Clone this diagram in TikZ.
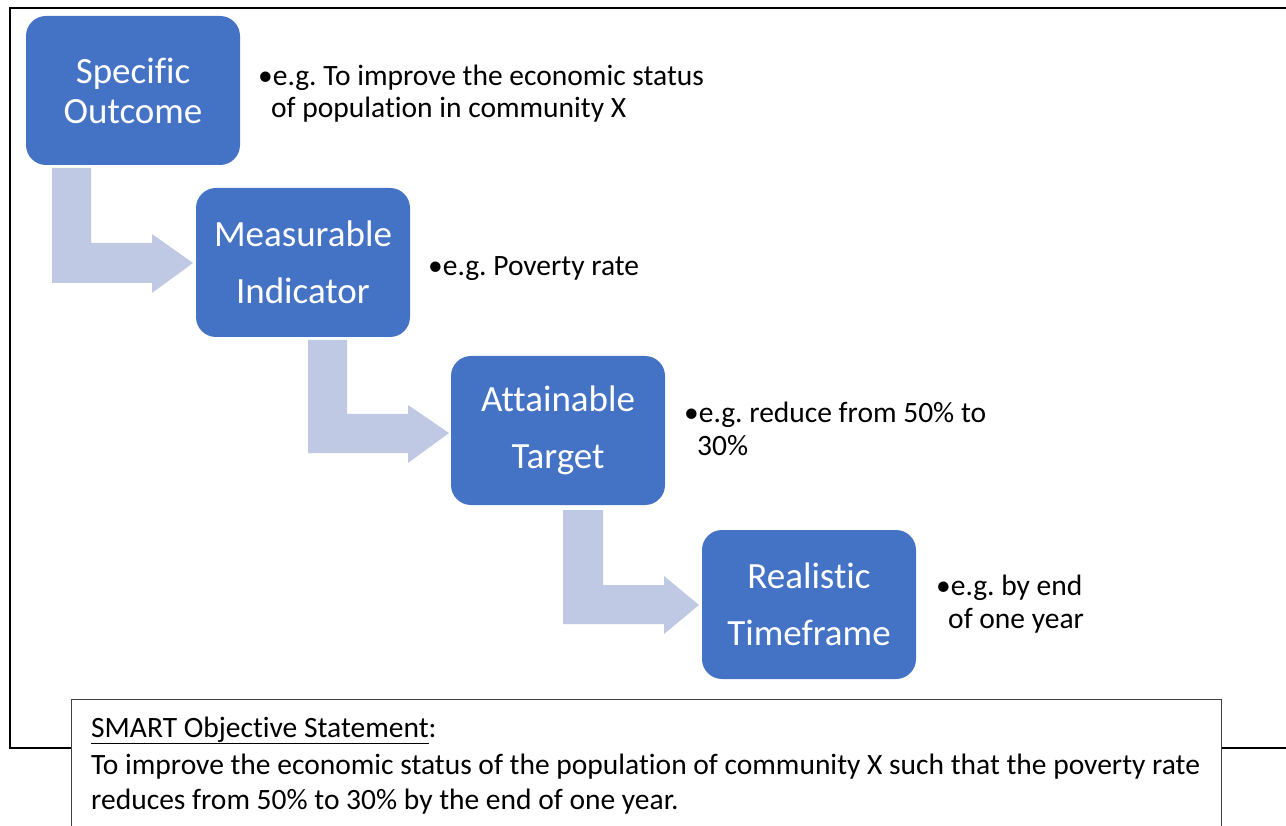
\documentclass[tikz,border=0pt]{standalone}
\usepackage{fontspec}
\setmainfont{Carlito}[Ligatures=NoCommon]
\frenchspacing
\definecolor{boxblue}{HTML}{4472C4}
\definecolor{arrowblue}{HTML}{BFC9E3}
\definecolor{framegray}{HTML}{404040}
\begin{document}
\begin{tikzpicture}[x=1pt,y=-1pt,
  stepbox/.style={fill=boxblue, rounded corners=20pt, minimum width=214pt, minimum height=149pt,
    text=white, align=center, inner sep=0pt},
  tightbox/.style={stepbox, font=\fontsize{37}{40}\selectfont},
  loosebox/.style={stepbox, font=\fontsize{37}{57}\selectfont},
  note/.style={anchor=base west, inner sep=0pt, font=\fontsize{29.5}{32}\selectfont, text=black},
  bentarrow/.style={fill=arrowblue},
  framerule/.style={line width=2.8pt, black},
  stmtbox/.style={draw=framegray, line width=1pt}]
\useasboundingbox (0,0) rectangle (1286,826);

% outer frame
\draw[framerule] (71,748) -- (10,748) -- (10,8) -- (1300,8);
\draw[framerule] (1221,748) -- (1300,748);

% boxes
\node[tightbox] (s) at (133,90.5) {Specific\\Outcome};
\node[loosebox] (m) at (303,262.5) {Measurable\\Indicator};
\node[loosebox] (a) at (558,430.5) {Attainable\\Target};
\node[loosebox] (r) at (809,604.5) {Realistic\\Timeframe};

% bent arrows
\fill[bentarrow] (52,168) -- (91,168) -- (91,243) -- (152,243) -- (152,234) -- (193,263)
  -- (152,293) -- (152,283) -- (52,283) -- cycle;
\fill[bentarrow] (308,340) -- (347,340) -- (347,414) -- (408,414) -- (408,405) -- (449,433)
  -- (408,463) -- (408,453) -- (308,453) -- cycle;
\fill[bentarrow] (563,510) -- (603,510) -- (603,585) -- (664,585) -- (664,576) -- (699,605)
  -- (664,634) -- (664,624) -- (563,624) -- cycle;

% notes
\node[note] (n1a) at (258,86) {•e.g. To improve the economic status};
\node[note] (n1b) at (271,118) {of population in community X};
\node[note] (n2) at (428,276) {•e.g. Poverty rate};
\node[note] (n3a) at (684,422) {•e.g. reduce from 50\% to};
\node[note] (n3b) at (697,455) {30\%};
\node[note] (n4a) at (936,595) {•e.g. by end};
\node[note] (n4b) at (948,628) {of one year};

% statement box
\draw[stmtbox] (71,840) -- (71,699) -- (1221,699) -- (1221,840);
\node[note] (st1) at (91,737) {\underline{SMART Objective Statement}:};
\node[note] (st2) at (91,774) {To improve the economic status of the population of community X such that the poverty rate};
\node[note] (st3) at (91,809) {reduces from 50\% to 30\% by the end of one year.};
\end{tikzpicture}
\end{document}
